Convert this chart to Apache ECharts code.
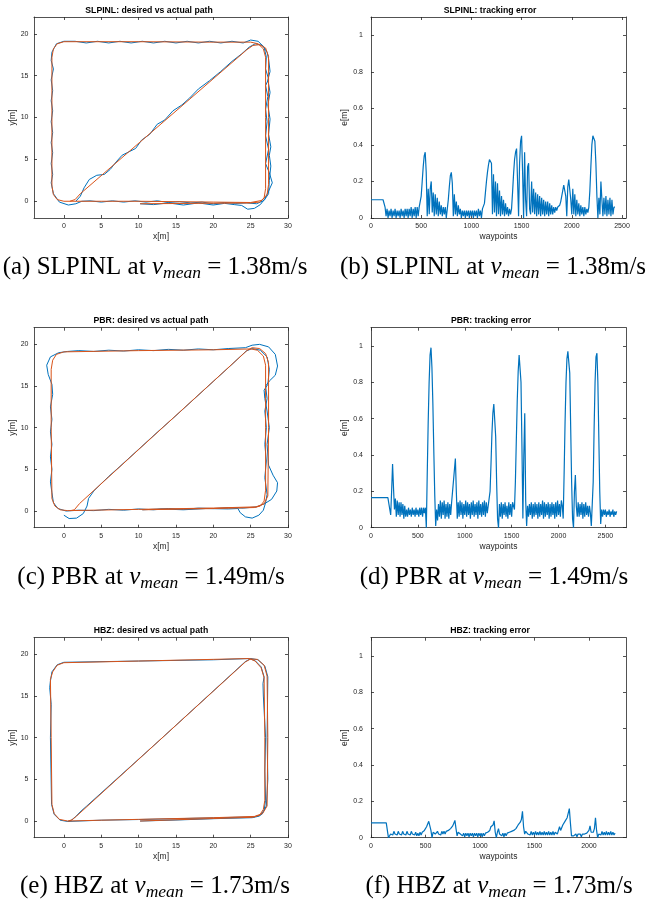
<!DOCTYPE html>
<html><head><meta charset="utf-8">
<script src="https://cdn.jsdelivr.net/npm/echarts@6/dist/echarts.min.js"></script>
<style>html,body{margin:0;padding:0;background:#fff}#c{width:647px;height:904px}</style>
</head><body><div id="c"></div>
<script>
// ---------------- data ----------------
const PATH_X_TICKS = [0, 5, 10, 15, 20, 25, 30];
const PATH_Y_TICKS = [0, 5, 10, 15, 20];
const ERR_X_TICKS = [0, 500, 1000, 1500, 2000, 2500];
const ERR_Y_TICKS = [0, 0.2, 0.4, 0.6, 0.8, 1];
const PATH_X_RANGE = [-4, 30];
const PATH_Y_RANGE = [-2, 22];
const ERR_Y_RANGE = [0, 1.1];
const ERR_X_MAX = { slp: 2540, pbr: 2720, hbz: 2340 };
const ERR_STEP = 10; // waypoint spacing of the error samples below

// SLPINL desired path (orange)
const SLP_DES = [[10.2,-0.3],[15,-0.27],[20,-0.24],[25,-0.2],[26.2,-0.1],[26.8,0.4],[27.0,1.5],[27.0,10],[27.0,17.2],[26.7,18.2],[26.0,18.8],[25,19.0],[20,19.0],[10,19.05],[0,19.05],[-0.9,18.8],[-1.4,18.2],[-1.6,17.2],[-1.6,10],[-1.6,1.8],[-1.4,0.8],[-0.9,0.2],[0,0],[5,0],[10,0],[15,-0.05],[20,-0.1],[25,-0.15],[26.5,0.1],[27.2,0.8],[27.4,2],[27.4,10],[27.4,17.3],[27.0,18.3],[26.2,18.7],[25.3,18.6],[24.5,18.1],[2.2,0.9],[1.5,0.2],[0.8,0]];
// SLPINL actual path (blue)
const SLP_ACT = [[10.2,-0.3],[12,-0.4],[14,-0.2],[16,-0.45],[18,-0.2],[20,-0.45],[21.5,-0.25],[22.8,-0.4],[23.8,-0.5],[24.6,-0.95],[25.5,-0.85],[26.3,-0.4],[26.9,0.3],[27.4,1.2],[27.9,2.2],[27.5,3.4],[27.0,4.5],[27.4,6.2],[27.0,7.8],[27.2,9.5],[27.0,11],[27.3,12.5],[27.0,13.8],[27.4,14.6],[27.0,15.8],[27.1,17.2],[26.8,18.4],[26.0,19.1],[25.0,19.25],[24.0,18.9],[22.5,19.1],[21,18.9],[19.5,19.1],[18,18.9],[16.5,19.1],[15,18.9],[13.5,19.1],[12,18.9],[10.5,19.1],[9,18.9],[7.5,19.1],[6,18.9],[4.5,19.1],[3,18.9],[1.5,19.1],[0,19.1],[-1.0,18.8],[-1.6,17.8],[-1.7,16.8],[-1.4,15.8],[-1.7,14.5],[-1.5,13.2],[-1.7,12],[-1.5,10.8],[-1.7,9.5],[-1.5,8.2],[-1.7,7],[-1.5,5.8],[-1.7,4.5],[-1.5,3.2],[-1.7,2.2],[-1.4,0.9],[-0.6,-0.1],[0.6,-0.45],[1.6,-0.3],[2.4,0.0],[3.5,0.05],[5,-0.1],[6.5,0.05],[8,-0.1],[9.5,0.05],[11,-0.1],[12.5,0.05],[14,-0.15],[15.5,-0.05],[17,-0.2],[18.5,-0.1],[20,-0.3],[21.5,-0.15],[23,-0.25],[24.5,-0.2],[25.8,-0.3],[26.8,0.1],[27.4,0.9],[27.5,2.5],[27.7,4.2],[27.5,5.5],[27.7,6.5],[27.4,8],[27.6,9.8],[27.3,11.5],[27.6,13],[27.3,14.5],[27.6,15.5],[27.4,17],[27.2,17.8],[26.6,18.6],[25.6,18.8],[24.8,18.4],[23.8,17.6],[22.5,16.7],[21,15.5],[19.5,14.4],[18,13.4],[16.8,12.3],[15.8,11.5],[14.6,10.8],[13.5,9.7],[12.5,9.2],[11.5,8.0],[10.4,7.3],[9.6,6.3],[8.7,5.9],[7.8,5.5],[7.0,4.7],[6.2,3.8],[5.4,3.2],[4.4,3.1],[3.4,2.6],[2.7,1.6],[2.2,0.6],[1.6,0.0]];

// PBR desired path (orange)
const PBR_DES = [[10.5,0.15],[15,0.22],[20,0.3],[25.5,0.42],[26.3,0.6],[26.8,1.2],[27.0,2.5],[27.0,10],[27.0,17.5],[26.7,18.6],[25.9,19.3],[25,19.45],[20,19.35],[10,19.25],[0,19.1],[-1.0,18.8],[-1.5,18.1],[-1.7,17],[-1.7,10],[-1.6,1.5],[-1.2,0.6],[-0.5,0.15],[0.5,0.05],[5,0.12],[10,0.2],[15,0.28],[20,0.36],[25.7,0.5],[26.8,0.85],[27.3,1.8],[27.4,10],[27.4,17.8],[27.0,18.9],[26.2,19.5],[25.2,19.6],[24.5,19.25],[2.1,0.9],[1.4,0.15],[0.9,0.05]];
// PBR actual path (blue)
const PBR_ACT = [[10.5,0.15],[13,0.25],[16,0.15],[19,0.3],[22,0.25],[23.3,0.3],[23.6,-0.2],[24.3,-0.7],[25.2,-0.85],[26.1,-0.5],[26.7,0.1],[27.0,1.0],[27.2,2.0],[26.9,4],[27.1,6],[26.9,8],[27.1,10],[26.9,12],[27.2,13.5],[27.0,15.0],[27.5,15.6],[28.3,16.3],[28.6,17.4],[28.3,18.8],[27.4,19.7],[26.2,20.0],[25.2,19.9],[24.3,19.6],[22,19.5],[20,19.35],[18,19.45],[16,19.3],[14,19.4],[12,19.25],[10,19.35],[8,19.2],[6,19.3],[4,19.15],[2,19.25],[0.5,19.15],[-0.7,19.0],[-1.8,18.5],[-2.3,17.5],[-2.1,16.4],[-1.6,15.2],[-1.5,14],[-1.8,12.5],[-1.6,11],[-1.8,9.5],[-1.6,8],[-1.8,6.5],[-1.6,5],[-1.8,3.5],[-1.6,2.2],[-1.4,1.0],[-0.8,0.3],[0.3,0.0],[2,0.1],[4,0.05],[6,0.2],[8,0.1],[10,0.25],[12,0.15],[14,0.3],[16,0.2],[18,0.35],[20,0.3],[22,0.4],[24,0.35],[25.8,0.5],[26.9,0.9],[27.8,1.4],[28.5,2.4],[28.6,3.4],[28.0,4.3],[27.4,5.5],[27.2,8],[27.5,10],[27.2,12],[26.9,13.5],[26.8,14.5],[27.3,15.2],[27.5,17],[27.2,18.5],[26.3,19.3],[25.2,19.5],[24.4,19.2],[22.5,17.6],[20,15.55],[17.5,13.5],[15,11.45],[12.5,9.45],[10,7.4],[7.5,5.35],[6,4.15],[4.9,3.2],[4.0,2.4],[3.3,1.5],[3.1,0.6],[2.6,-0.3],[1.7,-0.85],[0.7,-0.9],[0.0,-0.5]];

// HBZ desired path (orange)
const HBZ_DES = [[10.2,0.0],[15,0.15],[20,0.3],[25.3,0.45],[26.2,0.7],[26.7,1.4],[26.9,2.5],[26.9,10],[26.8,17.2],[26.4,18.4],[25.6,19.2],[24.8,19.5],[20,19.4],[10,19.2],[0,19.0],[-0.9,18.7],[-1.5,17.9],[-1.8,17],[-1.7,10],[-1.6,2],[-1.3,0.9],[-0.6,0.2],[0.5,0.0],[5,0.1],[10,0.2],[15,0.3],[20,0.4],[25.5,0.55],[26.6,0.9],[27.2,1.8],[27.3,10],[27.2,17.4],[26.8,18.7],[25.9,19.4],[25,19.45],[24.3,19.1],[1.7,0.6],[1.1,0.15],[0.6,0.0]];
// HBZ actual path (blue)
const HBZ_ACT = [[10.2,0.0],[15,0.12],[20,0.28],[25.2,0.4],[26.2,0.6],[26.8,1.3],[27.0,2.5],[26.9,6],[27.0,10],[26.7,15],[26.65,16.5],[26.8,17.3],[26.4,18.5],[25.6,19.25],[24.8,19.5],[20,19.35],[10,19.2],[0,19.05],[-0.9,18.75],[-1.6,17.9],[-1.8,16.8],[-1.9,16],[-1.7,14],[-1.8,10],[-1.65,2],[-1.3,0.8],[-0.5,0.1],[0.5,-0.05],[5,0.1],[10,0.18],[15,0.28],[20,0.38],[25.5,0.5],[26.5,0.8],[27.1,1.8],[27.3,5],[27.2,10],[27.3,17.3],[26.9,18.6],[26,19.35],[25,19.5],[24.25,19.1],[13,9.85],[3.0,1.75],[2.3,1.2],[1.6,0.55],[1.0,0.1],[0.5,-0.05]];

// tracking error samples, one every ERR_STEP waypoints
const SLP_ERR = [
0.1,0.1,0.1,0.1,0.1,0.1,0.1,0.1,0.1,0.1,0.1,0.1,0.1,0.1,
0.06,
0.01,0.05,0.00,0.04,0.01,0.05,0.00,0.04,0.01,0.05,0.00,0.04,0.01,0.04,0.00,0.05,0.01,0.04,0.00,0.05,0.01,0.05,0.00,0.05,0.01,0.06,0.00,0.05,0.01,0.06,0.00,0.06,0.01,0.06,
0.06,0.12,0.20,0.28,0.34,0.36,0.25,0.01,0.16,0.02,0.16,0.20,0.03,0.14,0.01,0.13,0.02,0.11,0.01,0.09,0.02,0.07,0.01,0.06,0.02,0.06,0.00,0.05,0.10,0.17,0.23,0.25,0.19,0.01,0.13,0.02,0.09,0.01,0.07,0.02,0.05,0.00,
0.04,0.01,0.04,0.00,0.04,0.01,0.04,0.00,0.04,0.01,0.04,0.00,0.04,0.01,0.04,0.00,0.05,0.01,0.04,0.00,
0.05,0.05,0.08,0.14,0.20,0.25,0.29,0.32,0.33,0.30,0.02,0.24,0.03,0.20,0.01,0.19,0.02,0.15,0.01,0.12,0.02,0.10,0.01,0.08,0.02,0.06,0.01,0.05,0.02,
0.05,0.14,0.24,0.32,0.36,0.38,0.20,0.01,0.30,0.42,0.45,0.25,0.00,0.36,0.10,0.01,0.28,0.30,0.05,0.02,
0.20,0.03,0.16,0.02,0.14,0.01,0.13,0.02,0.12,0.01,0.11,0.02,0.10,0.01,0.09,0.02,0.09,0.01,0.08,0.02,0.07,0.02,0.06,0.03,0.06,0.04,0.06,0.05,0.07,0.09,
0.12,0.15,0.18,0.19,0.12,0.01,0.17,0.21,0.22,0.10,
0.02,0.16,0.02,0.13,0.01,0.10,0.02,0.08,0.01,0.07,0.02,0.06,0.01,0.06,0.02,0.05,0.03,0.06,0.15,0.28,
0.40,0.45,0.46,0.42,0.30,0.12,0.00,0.11,0.02,0.20,0.10,0.01,0.11,0.02,0.12,0.01,0.10,0.02,0.11,0.01,0.10,0.02,0.06,0.06];

const PBR_ERR = [
0.165,0.165,0.165,0.165,0.165,0.165,0.165,0.165,0.165,0.165,0.165,0.165,0.165,0.165,0.165,0.165,0.165,0.165,0.165,0.165,0.165,
0.07,0.20,0.35,0.22,0.10,0.16,0.06,0.15,0.07,0.14,0.06,0.14,0.07,0.13,0.05,0.12,0.06,
0.10,0.06,0.11,0.07,0.10,0.06,0.11,0.07,0.10,0.06,0.11,0.07,0.10,0.06,0.11,0.07,0.11,0.06,0.11,0.08,
0.11,0.00,0.30,0.58,0.80,0.95,0.99,0.88,0.68,0.42,0.18,0.01,
0.10,0.04,0.13,0.06,0.15,0.05,0.14,0.07,0.15,0.05,0.13,0.06,0.14,0.05,0.13,0.07,
0.14,0.20,0.26,0.32,0.38,0.20,0.05,0.14,0.06,
0.15,0.07,0.14,0.05,0.13,0.07,0.15,0.06,0.14,0.07,0.13,0.05,0.14,0.07,0.15,0.06,0.13,0.07,0.14,0.05,0.15,0.07,0.13,0.06,0.14,0.07,0.15,0.06,0.14,0.08,0.12,0.11,
0.20,0.35,0.52,0.63,0.68,0.68,0.50,0.25,0.05,0.00,
0.13,0.06,0.14,0.05,0.13,0.07,0.14,0.06,0.12,0.05,0.14,0.07,0.13,0.06,0.14,
0.13,0.10,0.25,0.48,0.70,0.86,0.95,0.96,0.80,0.45,0.05,0.40,0.63,0.15,0.01,0.12,
0.06,0.13,0.07,0.14,0.05,0.13,0.06,0.14,0.07,0.13,0.05,0.14,0.06,0.13,0.07,0.15,0.05,0.14,0.06,0.13,0.07,0.14,0.05,0.13,0.06,0.14,0.07,0.13,0.05,0.14,0.06,0.15,0.07,0.13,0.06,0.15,
0.12,0.05,0.30,0.58,0.80,0.93,0.97,0.98,0.85,0.55,0.25,0.05,0.00,0.20,0.29,0.12,0.06,
0.14,0.06,0.13,0.07,0.14,0.05,0.13,0.06,0.14,0.07,0.12,0.06,0.12,
0.08,0.01,0.00,0.25,0.55,0.80,0.94,0.96,0.80,0.50,0.20,0.02,0.10,
0.06,0.10,0.07,0.10,0.06,0.09,0.07,0.10,0.06,0.09,0.07,0.10,0.06,0.09,0.07,0.09];

const HBZ_ERR = [
0.082,0.082,0.082,0.082,0.082,0.082,0.082,0.082,0.082,0.082,0.082,0.082,0.082,0.082,0.082,0.082,
0.00,0.01,0.02,0.015,
0.015,0.035,0.02,0.03,0.015,0.035,0.02,0.03,0.015,0.035,0.02,0.03,0.015,0.035,0.02,0.03,0.015,0.035,0.02,0.03,0.015,0.03,0.01,0.025,0.01,0.03,0.015,0.03,
0.03,0.04,0.05,0.06,0.07,0.09,0.095,0.04,0.00,0.03,0.04,0.02,
0.015,0.035,0.02,0.03,0.015,0.035,0.02,0.035,0.02,0.035,0.03,0.04,0.045,
0.05,0.06,0.065,0.08,0.095,0.05,0.01,0.03,0.035,0.02,
0.025,0.01,0.025,0.005,0.025,0.01,0.025,0.005,0.025,0.01,0.025,0.005,0.025,0.01,0.025,0.005,0.025,0.01,0.025,0.005,0.025,0.01,0.025,0.015,0.03,0.04,
0.04,0.06,0.05,0.07,0.093,0.03,0.00,0.03,0.05,0.02,
0.025,0.01,0.025,0.005,0.025,0.01,0.025,0.015,0.03,0.025,0.035,0.03,
0.04,0.045,0.05,0.06,0.07,0.075,0.085,0.10,0.145,0.06,0.02,0.035,0.04,0.02,
0.03,0.015,0.035,0.015,0.03,0.015,0.035,0.015,0.03,0.015,0.035,0.015,0.03,0.015,0.035,0.015,0.03,0.015,0.035,0.015,0.03,0.015,0.035,0.015,0.03,0.035,0.02,
0.03,0.06,0.04,0.05,0.07,0.08,0.09,0.10,0.11,0.12,0.16,0.08,0.01,0.00,0.01,0.02,
0.02,0.005,0.02,0.01,0.02,0.005,0.02,0.01,0.02,0.01,0.025,0.03,
0.04,0.065,0.03,0.02,0.03,0.05,0.11,0.04,0.00,0.02,
0.03,0.015,0.035,0.015,0.03,0.015,0.035,0.015,0.03,0.015,0.035,0.015,0.03,0.015,0.025];

// ---------------- styling / layout ----------------
const C_BLUE = '#0072BD', C_ORANGE = '#D95319', C_AX = '#262626';
const SANS = '"Liberation Sans", Arial, Helvetica, sans-serif';
const SERIF = '"Liberation Serif", "Times New Roman", serif';

const toErr = arr => arr.map((v, i) => [i * ERR_STEP, v]);

const panels = [
  { grid: {left: 34, top: 17, width: 254, height: 201}, kind: 'path', des: SLP_DES, act: SLP_ACT, title: 'SLPINL: desired vs actual path', tx: 149, ty: 10.5 },
  { grid: {left: 371, top: 17, width: 255, height: 201}, kind: 'err', err: SLP_ERR, xmax: ERR_X_MAX.slp, title: 'SLPINL: tracking error', tx: 490, ty: 10.5 },
  { grid: {left: 34, top: 327.7, width: 254, height: 200}, kind: 'path', des: PBR_DES, act: PBR_ACT, title: 'PBR: desired vs actual path', tx: 151, ty: 321 },
  { grid: {left: 371, top: 327.7, width: 255, height: 200}, kind: 'err', err: PBR_ERR, xmax: ERR_X_MAX.pbr, title: 'PBR: tracking error', tx: 491, ty: 321 },
  { grid: {left: 34, top: 637.7, width: 254, height: 200}, kind: 'path', des: HBZ_DES, act: HBZ_ACT, title: 'HBZ: desired vs actual path', tx: 151, ty: 631 },
  { grid: {left: 371, top: 637.7, width: 255, height: 200}, kind: 'err', err: HBZ_ERR, xmax: ERR_X_MAX.hbz, title: 'HBZ: tracking error', tx: 490, ty: 631 }
];

const captions = [
  { x: 155, y: 267, lead: '(a) SLPINL at ', tail: ' = 1.38m/s' },
  { x: 493, y: 267, lead: '(b) SLPINL at ', tail: ' = 1.38m/s' },
  { x: 151, y: 577, lead: '(c) PBR at ', tail: ' = 1.49m/s' },
  { x: 494, y: 577, lead: '(d) PBR at ', tail: ' = 1.49m/s' },
  { x: 155, y: 886, lead: '(e) HBZ at ', tail: ' = 1.73m/s' },
  { x: 499, y: 886, lead: '(f) HBZ at ', tail: ' = 1.73m/s' }
];

const grids = [], xAxes = [], yAxes = [], series = [], graphics = [];
const axLine = { show: true, onZero: false, lineStyle: { color: C_AX, width: 0.8 } };
const tick = vals => ({ show: true, inside: true, length: 3, customValues: vals, lineStyle: { color: C_AX, width: 0.8 } });
const plain = v => String(v);

panels.forEach((p, i) => {
  grids.push(Object.assign({ containLabel: false }, p.grid));
  const isPath = p.kind === 'path';
  const xr = isPath ? PATH_X_RANGE : [0, p.xmax];
  const yr = isPath ? PATH_Y_RANGE : ERR_Y_RANGE;
  const xt = isPath ? PATH_X_TICKS : ERR_X_TICKS;
  const yt = isPath ? PATH_Y_TICKS : ERR_Y_TICKS;
  const base = { type: 'value', gridIndex: i, splitLine: { show: false }, axisLine: axLine };
  xAxes.push(Object.assign({}, base, {
    position: 'bottom', min: xr[0], max: xr[1], axisTick: tick(xt),
    axisLabel: { show: true, customValues: xt, formatter: plain, fontSize: 7, color: C_AX, fontFamily: SANS, margin: 5 },
    name: isPath ? 'x[m]' : 'waypoints', nameLocation: 'middle', nameGap: 14,
    nameTextStyle: { fontSize: 8.5, color: C_AX, fontFamily: SANS }
  }));
  xAxes.push(Object.assign({}, base, {
    position: 'top', min: xr[0], max: xr[1], axisTick: tick(xt), axisLabel: { show: false }
  }));
  yAxes.push(Object.assign({}, base, {
    position: 'left', min: yr[0], max: yr[1], axisTick: tick(yt),
    axisLabel: { show: true, customValues: yt, formatter: plain, fontSize: 7, color: C_AX, fontFamily: SANS, margin: isPath ? 5.5 : 8 },
    name: isPath ? 'y[m]' : 'e[m]', nameLocation: 'middle', nameGap: isPath ? 15 : 18,
    nameTextStyle: { fontSize: 8.5, color: C_AX, fontFamily: SANS }
  }));
  yAxes.push(Object.assign({}, base, {
    position: 'right', min: yr[0], max: yr[1], axisTick: tick(yt), axisLabel: { show: false }
  }));
  const common = { type: 'line', xAxisIndex: 2 * i, yAxisIndex: 2 * i, showSymbol: false, symbol: 'none', animation: false, silent: true, clip: true };
  if (isPath) {
    series.push(Object.assign({}, common, { data: p.act, lineStyle: { color: C_BLUE, width: 1 }, itemStyle: { color: C_BLUE }, z: 2 }));
    series.push(Object.assign({}, common, { data: p.des, lineStyle: { color: C_ORANGE, width: 1 }, itemStyle: { color: C_ORANGE }, z: 3 }));
  } else {
    series.push(Object.assign({}, common, { data: toErr(p.err), lineStyle: { color: C_BLUE, width: 1.2 }, itemStyle: { color: C_BLUE }, z: 2 }));
  }
  graphics.push({
    type: 'text', x: p.tx, y: p.ty, silent: true,
    style: { text: p.title, font: 'bold 8.7px ' + SANS, fill: '#000', align: 'center', verticalAlign: 'middle', textAlign: 'center', textVerticalAlign: 'middle' }
  });
});

captions.forEach(c => {
  graphics.push({
    type: 'text', x: c.x, y: c.y, silent: true,
    style: {
      text: '{n|' + c.lead + '}{v|v}{s|mean}{n|' + c.tail + '}',
      align: 'center', verticalAlign: 'middle', textAlign: 'center', textVerticalAlign: 'middle',
      rich: {
        n: { fontFamily: SERIF, fontSize: 25, fill: '#000', lineHeight: 30 },
        v: { fontFamily: SERIF, fontSize: 25, fontStyle: 'italic', fill: '#000', lineHeight: 30 },
        s: { fontFamily: SERIF, fontSize: 17.5, fontStyle: 'italic', fill: '#000', lineHeight: 17, verticalAlign: 'bottom' }
      }
    }
  });
});

const chart = echarts.init(document.getElementById('c'), null, { renderer: 'canvas' });
chart.setOption({
  animation: false,
  backgroundColor: '#fff',
  grid: grids, xAxis: xAxes, yAxis: yAxes, series: series, graphic: graphics
});
</script></body></html>
